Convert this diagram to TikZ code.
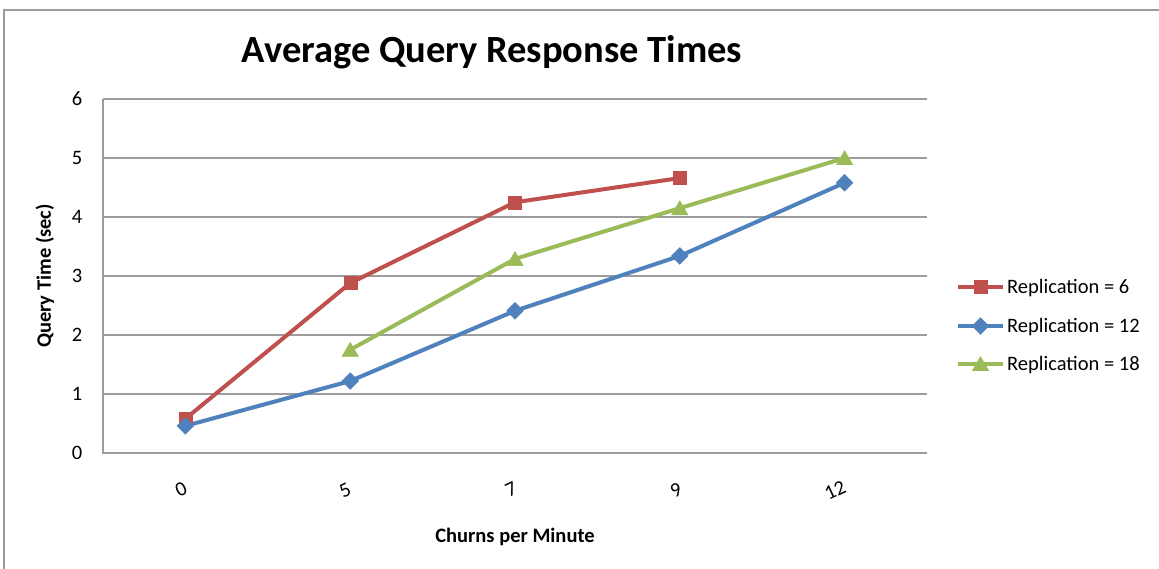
\documentclass[tikz,border=0pt]{standalone}
\usepackage{fontspec}
\setmainfont{Carlito}
\usetikzlibrary{shapes.geometric,calc}
\definecolor{cred}{HTML}{C0504D}
\definecolor{cblue}{HTML}{4F81BD}
\definecolor{cgreen}{HTML}{9BBB59}
\definecolor{grid}{HTML}{9C9C9C}
\tikzset{
  sqmark/.style={rectangle, fill=cred, draw=cred, minimum size=13pt, inner sep=0pt},
  dimark/.style={diamond, fill=cblue, draw=cblue, minimum size=17pt, inner sep=0pt},
  trmark/.style={regular polygon, regular polygon sides=3, fill=cgreen, draw=cgreen, minimum size=19pt, inner sep=0pt},
  redline/.style={cred, line width=4pt, line join=round},
  blueline/.style={cblue, line width=4pt, line join=round},
  greenline/.style={cgreen, line width=4pt, line join=round},
  gridline/.style={grid, line width=1.6pt},
  ticklab/.style={font=\fontsize{20.5}{24}\selectfont, inner sep=0pt},
  xlab/.style={font=\fontsize{20.5}{24}\selectfont, inner sep=0pt, rotate=25},
  axtitle/.style={font=\bfseries\fontsize{20.5}{24}\selectfont, inner sep=0pt},
  legtext/.style={font=\fontsize{20.5}{24}\selectfont, inner sep=0pt, anchor=west},
}
\begin{document}
\begin{tikzpicture}[x=1pt,y=-1pt]
\useasboundingbox (0,0) rectangle (1159,568);
\fill[white] (0,0) rectangle (1159,568);
% outer frame
\draw[grid, line width=1.5pt] (4,580) -- (4,10) -- (1170,10);
% title
\node[font=\bfseries\fontsize{38.5}{44}\selectfont, inner sep=0pt] (title) at (492,52) {Average Query Response Times};
% grid
\foreach \v in {1,...,6} {
  \draw[gridline] (103,{453-59*\v}) -- (927,{453-59*\v});
}
\draw[gridline] (103,99) -- (103,453) -- (927,453);
% y tick labels
\foreach \v in {0,...,6} {
  \node[ticklab] (yl\v) at (77,{453-59*\v}) {\v};
}
% y title
\node[axtitle, rotate=90] (ytitle) at (45,276) {Query Time (sec)};
% x tick labels
\node[xlab] (xl0) at (181,489) {0};
\node[xlab] (xl1) at (345,490) {5};
\node[xlab] (xl2) at (511,489) {7};
\node[xlab] (xl3) at (676,490) {9};
\node[xlab] (xl4) at (835,490) {12};
% x title
\node[axtitle] (xtitle) at (515,537) {Churns per Minute};
% data
\foreach \n/\x/\v in {0/185.4/0.58, 1/350.2/2.88, 2/515/4.25, 3/679.8/4.66} {
  \coordinate (r\n) at (\x,{453-59*\v});
}
\foreach \n/\x/\v in {0/185.4/0.46, 1/350.2/1.22, 2/515/2.41, 3/679.8/3.34, 4/844.6/4.58} {
  \coordinate (b\n) at (\x,{453-59*\v});
}
\foreach \n/\x/\v in {1/350.2/1.75, 2/515/3.29, 3/679.8/4.15, 4/844.6/5.0} {
  \coordinate (g\n) at (\x,{453-59*\v});
}
\draw[redline] (r0) -- (r1) -- (r2) -- (r3);
\draw[blueline] (b0) -- (b1) -- (b2) -- (b3) -- (b4);
\draw[greenline] (g1) -- (g2) -- (g3) -- (g4);
\foreach \n in {0,...,3} \node[sqmark] (rm\n) at (r\n) {};
\foreach \n in {0,...,4} \node[dimark] (bm\n) at (b\n) {};
\foreach \n in {1,...,4} \node[trmark, yshift=-2pt] (gm\n) at (g\n) {};
% legend
\coordinate (la1) at (958,287); \coordinate (lb1) at (1003,287);
\coordinate (la2) at (958,326); \coordinate (lb2) at (1003,326);
\coordinate (la3) at (958,364); \coordinate (lb3) at (1003,364);
\draw[redline] (la1) -- (lb1);
\draw[blueline] (la2) -- (lb2);
\draw[greenline] (la3) -- (lb3);
\node[sqmark] (lm1) at ($(la1)!0.5!(lb1)$) {};
\node[dimark] (lm2) at ($(la2)!0.5!(lb2)$) {};
\node[trmark, yshift=-2pt] (lm3) at ($(la3)!0.5!(lb3)$) {};
\node[legtext] (lt1) at (1007,288) {Replication = 6};
\node[legtext] (lt2) at (1007,327) {Replication = 12};
\node[legtext] (lt3) at (1007,365) {Replication = 18};
\end{tikzpicture}
\end{document}
